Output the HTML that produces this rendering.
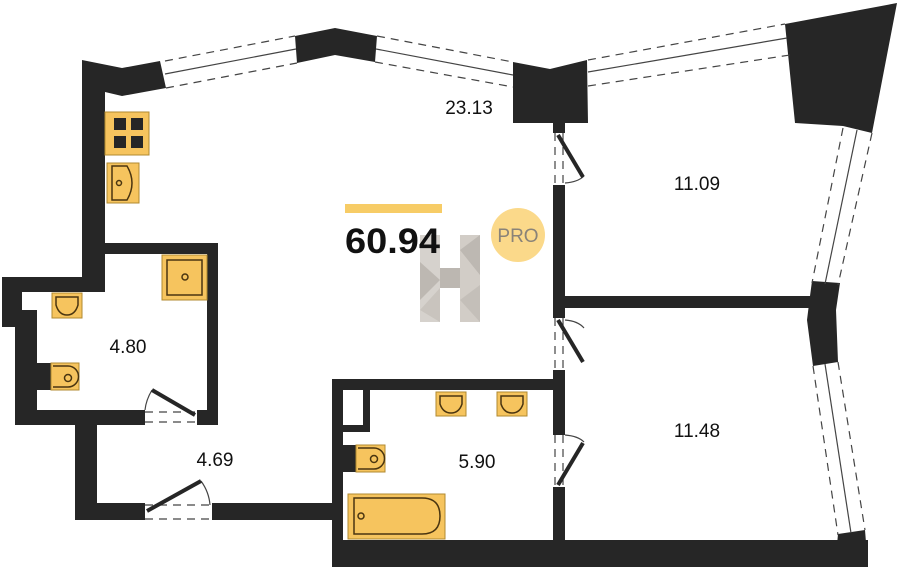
<!DOCTYPE html>
<html><head><meta charset="utf-8"><style>
html,body{margin:0;padding:0;background:#fff;width:900px;height:567px;overflow:hidden}
svg{display:block}
text{font-family:"Liberation Sans",sans-serif}
</style></head><body>
<svg width="900" height="567" viewBox="0 0 900 567">
<g fill="#262626">
<polygon points="82,60 122,68 160,61 166,88 122,96 105,92 105,292 82,292"/>
<rect x="2" y="277" width="103" height="15"/>
<rect x="2" y="277" width="20" height="50"/>
<rect x="15" y="310" width="22" height="115"/>
<rect x="105" y="243" width="113" height="11"/>
<rect x="207" y="243" width="11" height="182"/>
<rect x="15" y="410" width="130" height="15"/>
<rect x="197" y="410" width="21" height="15"/>
<rect x="75" y="420" width="22" height="100"/>
<rect x="75" y="503" width="70" height="17"/>
<rect x="212" y="503" width="123" height="17"/>
<polygon points="295,36 335,28 377,36 375,62 335,55 297,63"/>
<polygon points="513,62 550,69 587,60 588,123 513,123"/>
<polygon points="785,24 897,3 872,133 843,126 795,123"/>
<polygon points="812,281 840,283 836,310 838,362 813,366 807,320 810,296"/>
<polygon points="838,534 865,530 868,567 835,567"/>
<rect x="553" y="185" width="12" height="133"/>
<rect x="553" y="370" width="12" height="65"/>
<rect x="553" y="487" width="12" height="60"/>
<rect x="565" y="296" width="247" height="12"/>
<rect x="332" y="379" width="233" height="11"/>
<rect x="332" y="379" width="11" height="188"/>
<rect x="363" y="390" width="7" height="42"/>
<rect x="343" y="425" width="27" height="7"/>
<rect x="332" y="540" width="536" height="27"/>
<rect x="553" y="123" width="12" height="10"/>
<rect x="37" y="363" width="14" height="27"/>
<rect x="343" y="445" width="13" height="27"/>
</g>
<g stroke="#444" fill="none">
<g stroke-dasharray="8,6" stroke-width="1.2">
<line x1="165" y1="61" x2="295" y2="36"/><line x1="166" y1="88" x2="297" y2="63"/>
<line x1="377" y1="36" x2="513" y2="62"/><line x1="375" y1="62" x2="513" y2="87"/>
<line x1="588" y1="60" x2="785" y2="24"/><line x1="588" y1="86" x2="790" y2="55"/>
<line x1="843" y1="128" x2="812" y2="283"/><line x1="872" y1="133" x2="838" y2="285"/>
<line x1="813" y1="366" x2="838" y2="535"/><line x1="838" y1="362" x2="865" y2="530"/>
<line x1="555" y1="133" x2="555" y2="185"/><line x1="563" y1="133" x2="563" y2="185"/>
<line x1="555" y1="318" x2="555" y2="370"/><line x1="563" y1="318" x2="563" y2="370"/>
<line x1="555" y1="435" x2="555" y2="487"/><line x1="563" y1="435" x2="563" y2="487"/>
<line x1="145" y1="412" x2="197" y2="412"/><line x1="145" y1="422" x2="197" y2="422"/>
<line x1="145" y1="505" x2="212" y2="505"/><line x1="145" y1="519" x2="212" y2="519"/>
</g>
<g stroke-width="1.2">
<line x1="165" y1="74" x2="296" y2="49"/>
<line x1="376" y1="49" x2="513" y2="75"/>
<line x1="588" y1="72" x2="787" y2="38"/>
<line x1="857" y1="130" x2="825" y2="284"/>
<line x1="825" y1="364" x2="851" y2="533"/>
<path d="M565,183 Q578,182 584,176"/>
<path d="M565,320 Q578,321 584,328"/>
<path d="M565,435 Q578,436 584,442"/>
<path d="M145,410 Q146,400 152,390"/>
<path d="M210,505 Q209,492 201,481"/>
</g>
<g stroke="#262626" stroke-width="4">
<line x1="558" y1="135" x2="583" y2="177"/>
<line x1="558" y1="320" x2="583" y2="362"/>
<line x1="558" y1="485" x2="583" y2="443"/>
<line x1="195" y1="415" x2="152" y2="390"/>
<line x1="147" y1="511" x2="201" y2="481"/>
</g>
</g>
<g fill="#f6c45e" stroke="#b08a30" stroke-width="1">
<rect x="105" y="112" width="44" height="43"/>
<rect x="107" y="163" width="32" height="40"/>
<rect x="162" y="255" width="45" height="45"/>
<rect x="52" y="293" width="30" height="25"/>
<rect x="51" y="363" width="28" height="27"/>
<rect x="436" y="392" width="30" height="24"/>
<rect x="497" y="392" width="30" height="24"/>
<rect x="356" y="445" width="29" height="27"/>
<rect x="348" y="494" width="97" height="45"/>
</g>
<g fill="#262626">
<rect x="114" y="118" width="12" height="12"/><rect x="131" y="118" width="12" height="12"/>
<rect x="114" y="136" width="12" height="12"/><rect x="131" y="136" width="12" height="12"/>
</g>
<g fill="none" stroke="#4a3510" stroke-width="1.5">
<path d="M112,166 H127 Q137,183 127,200 H112 Z"/>
<rect x="167" y="260" width="35" height="35"/>
<path d="M56,297 H78 V305 Q75,315 67,315 Q59,315 56,305 Z"/>
<path d="M53,366 H68 A10,10 0 0 1 68,387 H53"/>
<path d="M440,396 H462 V404 Q459,413 451,413 Q443,413 440,404 Z"/>
<path d="M501,396 H523 V404 Q520,413 512,413 Q504,413 501,404 Z"/>
<path d="M358,448 H374 A10,10 0 0 1 374,469 H358"/>
<path d="M354,498 H422 Q440,498 440,516 Q440,534 422,534 H354 Z"/>
<circle cx="119" cy="183" r="2.5"/><circle cx="185" cy="277" r="3"/>
<circle cx="68" cy="378" r="3.5"/><circle cx="374" cy="459" r="3.5"/>
<circle cx="361" cy="516" r="3"/>
</g>
<rect x="345" y="204" width="97" height="9" fill="#f7cc66"/>
<g>
<rect x="420" y="235" width="20" height="87" fill="#d6d2cd"/>
<rect x="460" y="235" width="20" height="87" fill="#d2cdc7"/>
<rect x="440" y="268" width="20" height="20" fill="#bcb7b1"/>
<polygon points="420,262 440,280 420,300" fill="#bdb8b2"/>
<polygon points="440,288 420,310 440,322" fill="#c9c4be"/>
<polygon points="460,250 480,235 480,275" fill="#bdb8b2"/>
<polygon points="460,300 480,285 480,322" fill="#c4bfb9"/>
</g>
<text x="345" y="253" font-size="35" font-weight="bold" fill="#111" textLength="95" lengthAdjust="spacingAndGlyphs">60.94</text>
<circle cx="518" cy="235" r="27" fill="#fbd98a"/>
<text x="518" y="242" font-size="19" fill="#8a8378" text-anchor="middle">PRO</text>
<g font-size="19" fill="#111" text-anchor="middle">
<text x="469" y="114">23.13</text>
<text x="697" y="190">11.09</text>
<text x="128" y="353">4.80</text>
<text x="215" y="466">4.69</text>
<text x="477" y="468">5.90</text>
<text x="697" y="437">11.48</text>
</g>
</svg>
</body></html>
